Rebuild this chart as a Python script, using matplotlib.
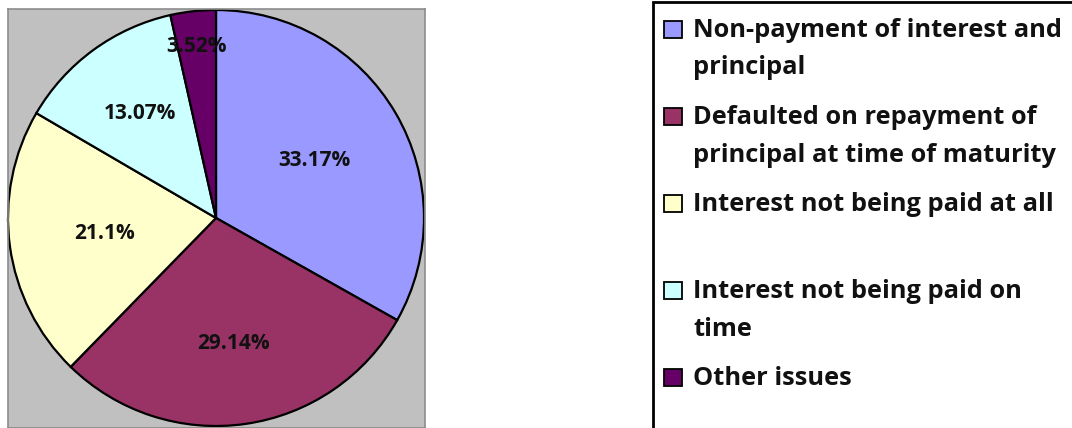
import numpy as np
import matplotlib
matplotlib.use("Agg")
import matplotlib.pyplot as plt
from matplotlib.patches import Rectangle

# Reasons reported for default on debt instruments
categories = [
    "Non-payment of interest and\nprincipal",
    "Defaulted on repayment of\nprincipal at time of maturity",
    "Interest not being paid at all",
    "Interest not being paid on\ntime",
    "Other issues",
]
shares = [33.17, 29.14, 21.10, 13.07, 3.52]
share_labels = ["33.17%", "29.14%", "21.1%", "13.07%", "3.52%"]
colors = ["#9999FF", "#993366", "#FFFFCC", "#CCFFFF", "#660066"]

W, H = 1072, 428
fig = plt.figure(figsize=(W / 100, H / 100), dpi=100)
fig.patch.set_facecolor("white")

font = "Open Sans"

# Plot area in pixel units (y measured upward)
px0, px1 = 8, 425
py0, py1 = 0, 419
ax = fig.add_axes([px0 / W, py0 / H, (px1 - px0) / W, (py1 - py0) / H])
cx, cy, r = 216, 210, 208

wedges, _ = ax.pie(
    shares,
    colors=colors,
    startangle=90,
    counterclock=False,
    center=(cx, cy),
    radius=r,
    wedgeprops=dict(edgecolor="black", linewidth=1.6),
    frame=True,
)
ax.set_xlim(px0, px1)
ax.set_ylim(py0, py1)
ax.set_aspect("auto")
ax.set_xticks([])
ax.set_yticks([])
ax.set_facecolor("#C0C0C0")
for s in ax.spines.values():
    s.set_color("#8C8C8C")
    s.set_linewidth(1.2)

# Percentage labels placed along each wedge's bisector
label_radius = [0.55, 0.61, 0.54, 0.62, 0.83]
for w, txt, lr in zip(wedges, share_labels, label_radius):
    mid = np.deg2rad((w.theta1 + w.theta2) / 2)
    ax.text(cx + lr * r * np.cos(mid), cy + lr * r * np.sin(mid), txt,
            ha="center", va="center", fontsize=15, fontweight="bold",
            family=font, color="#111111")

# Legend panel
box = Rectangle((653 / W, -0.1), 1.0, (H - 2) / H + 0.1, transform=fig.transFigure,
                facecolor="white", edgecolor="black", linewidth=2, clip_on=False)
fig.add_artist(box)

first_baseline = 37
entry_step = 87
line_step = 37.5
for i, (name, c) in enumerate(zip(categories, colors)):
    base = first_baseline + i * entry_step
    fig.add_artist(Rectangle((664 / W, (H - base - 1) / H), 18 / W, 17 / H,
                             transform=fig.transFigure, facecolor=c,
                             edgecolor="black", linewidth=1.3))
    for j, line in enumerate(name.split("\n")):
        fig.text(693 / W, (H - base - j * line_step) / H, line,
                 ha="left", va="baseline", fontsize=18.3, fontweight="bold",
                 family=font, color="#111111")

fig.savefig("out.png", dpi=100)
